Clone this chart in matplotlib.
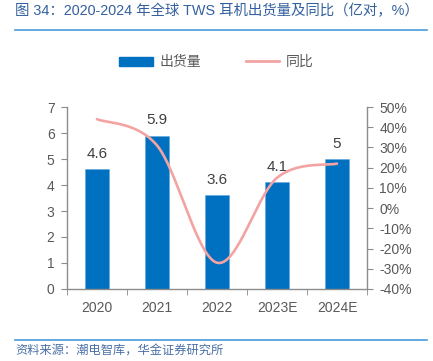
import numpy as np
import matplotlib
matplotlib.use("Agg")
import matplotlib.pyplot as plt
from matplotlib.lines import Line2D
from matplotlib.patches import Patch
from matplotlib.ticker import FuncFormatter

plt.rcParams['font.family'] = ['Liberation Sans', 'Noto Sans CJK SC']

categories = ['2020', '2021', '2022', '2023E', '2024E']
shipments = [4.6, 5.9, 3.6, 4.1, 5.0]
shipment_labels = ['4.6', '5.9', '3.6', '4.1', '5']
yoy = [0.44, 0.31, -0.27, 0.15, 0.22]

BAR = '#0070C0'
LINE = '#F4A3A3'
GRAY = '#595959'
SPINE = '#8C8C8C'

fig = plt.figure(figsize=(4.33, 3.61), dpi=100)
ax = fig.add_axes([67/433, 1-289/361, 300/433, 182/361])
ax2 = ax.twinx()
ax.set_zorder(ax2.get_zorder() - 1)
ax.patch.set_visible(False)

x = np.arange(len(categories))
ax.bar(x, shipments, width=0.39, color=BAR, edgecolor='#5FA8E0', linewidth=0.4)
for xi, v, lab in zip(x, shipments, shipment_labels):
    ax.annotate(lab, (xi, v), xytext=(0, 8), textcoords='offset points',
                ha='center', va='baseline', fontsize=11, color='#404040')

# smooth line (Catmull-Rom style Bezier, like spreadsheet smoothing)
def smooth(xs, ys, n=40):
    pts = np.column_stack([xs, ys]).astype(float)
    ext = np.vstack([pts[0], pts, pts[-1]])
    out = []
    for i in range(1, len(ext) - 2):
        p0, p1, p2, p3 = ext[i-1], ext[i], ext[i+1], ext[i+2]
        c1 = p1 + (p2 - p0) / 6
        c2 = p2 - (p3 - p1) / 6
        t = np.linspace(0, 1, n)[:, None]
        seg = ((1-t)**3)*p1 + 3*((1-t)**2)*t*c1 + 3*(1-t)*(t**2)*c2 + (t**3)*p2
        out.append(seg if i == 1 else seg[1:])
    arr = np.vstack(out)
    return arr[:, 0], arr[:, 1]

sx, sy = smooth(x * 60.0, np.array(yoy) * 202.0)
ax2.plot(sx / 60.0, sy / 202.0, color=LINE, lw=1.9, solid_capstyle='round')

ax.set_xlim(-0.5, 4.5)
ax.set_ylim(0, 7)
ax.set_yticks(range(0, 8))
ax2.set_ylim(-0.4, 0.5)
ax2.set_yticks(np.arange(-0.4, 0.51, 0.1))
ax2.yaxis.set_major_formatter(FuncFormatter(lambda v, p: f'{round(v*100):d}%'))

ax.set_xticks(x)
ax.set_xticklabels(categories)
ax.set_xticks(np.arange(-0.5, 5.0, 1.0), minor=True)
ax.tick_params(axis='x', which='major', length=0, pad=9, labelsize=10, labelcolor=GRAY)
ax.tick_params(axis='x', which='minor', length=4, color=SPINE, direction='out')
ax.tick_params(axis='y', length=4, color=SPINE, pad=5, labelsize=10, labelcolor=GRAY)
ax2.tick_params(axis='y', length=4, color=SPINE, pad=5, labelsize=10, labelcolor=GRAY)

for a in (ax, ax2):
    a.spines['top'].set_visible(False)
    for s in ['left', 'right', 'bottom']:
        a.spines[s].set_color(SPINE)
        a.spines[s].set_linewidth(1.0)
ax.spines['right'].set_visible(False)
ax2.spines['left'].set_visible(False)
ax2.spines['bottom'].set_visible(False)

handles = [Patch(facecolor=BAR, edgecolor=BAR), Line2D([0], [0], color=LINE, lw=2)]
fig.legend(handles, ['出货量', '同比'], loc='center', bbox_to_anchor=(0.5, 1-62/361),
           ncol=2, frameon=False, fontsize=10, labelcolor=GRAY,
           handlelength=2.4, handleheight=0.6, columnspacing=3.2, handletextpad=0.5)

fig.text(15/433, 1-11/361, '图 34：2020-2024 年全球 TWS 耳机出货量及同比（亿对，%）',
         fontsize=10.4, color='#34609E', ha='left', va='center')
fig.add_artist(Line2D([15/433, 427/433], [1-30/361, 1-30/361], color='#4A9BDB', lw=1.2))
fig.add_artist(Line2D([15/433, 427/433], [1-340/361, 1-340/361], color='#4A9BDB', lw=1.2))
fig.text(15/433, 1-352/361, '资料来源：潮电智库，华金证券研究所',
         fontsize=8.8, color='#4A6FA5', ha='left', va='center', style='italic')

fig.savefig('out.png', dpi=100)
